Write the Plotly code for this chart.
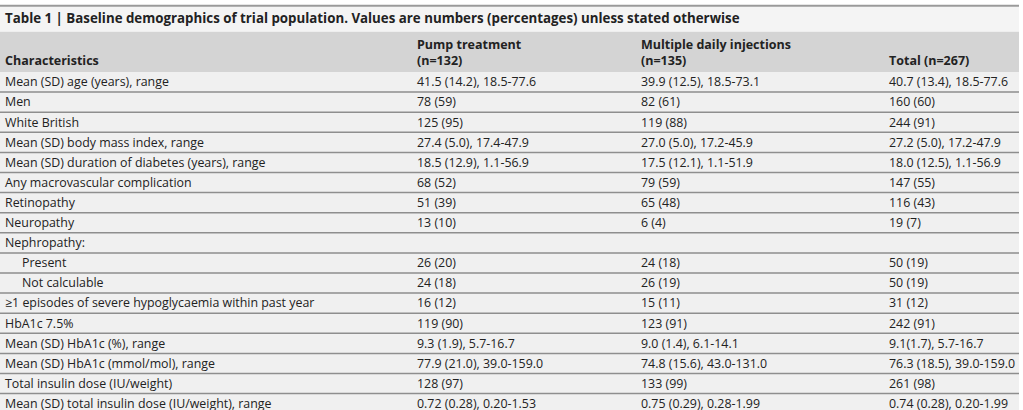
import plotly.graph_objects as go

title = ("Table 1 | Baseline demographics of trial population. "
         "Values are numbers (percentages) unless stated otherwise")

headers = ["Characteristics", "Pump treatment<br>(n=132)",
           "Multiple daily injections<br>(n=135)", "Total (n=267)"]

characteristics = [
    "Mean (SD) age (years), range",
    "Men",
    "White British",
    "Mean (SD) body mass index, range",
    "Mean (SD) duration of diabetes (years), range",
    "Any macrovascular complication",
    "Retinopathy",
    "Neuropathy",
    "Nephropathy:",
    "Present",
    "Not calculable",
    "≥1 episodes of severe hypoglycaemia within past year",
    "HbA1c 7.5%",
    "Mean (SD) HbA1c (%), range",
    "Mean (SD) HbA1c (mmol/mol), range",
    "Total insulin dose (IU/weight)",
    "Mean (SD) total insulin dose (IU/weight), range",
]
indented = [False] * 9 + [True, True] + [False] * 6

pump = ["41.5 (14.2), 18.5-77.6", "78 (59)", "125 (95)", "27.4 (5.0), 17.4-47.9",
        "18.5 (12.9), 1.1-56.9", "68 (52)", "51 (39)", "13 (10)", "",
        "26 (20)", "24 (18)", "16 (12)", "119 (90)", "9.3 (1.9), 5.7-16.7",
        "77.9 (21.0), 39.0-159.0", "128 (97)", "0.72 (0.28), 0.20-1.53"]
mdi = ["39.9 (12.5), 18.5-73.1", "82 (61)", "119 (88)", "27.0 (5.0), 17.2-45.9",
       "17.5 (12.1), 1.1-51.9", "79 (59)", "65 (48)", "6 (4)", "",
       "24 (18)", "26 (19)", "15 (11)", "123 (91)", "9.0 (1.4), 6.1-14.1",
       "74.8 (15.6), 43.0-131.0", "133 (99)", "0.75 (0.29), 0.28-1.99"]
total = ["40.7 (13.4), 18.5-77.6", "160 (60)", "244 (91)", "27.2 (5.0), 17.2-47.9",
         "18.0 (12.5), 1.1-56.9", "147 (55)", "116 (43)", "19 (7)", "",
         "50 (19)", "50 (19)", "31 (12)", "242 (91)", "9.1(1.7), 5.7-16.7",
         "76.3 (18.5), 39.0-159.0", "261 (98)", "0.74 (0.28), 0.20-1.99"]

# layout constants (pixels / row units)
W, H = 1023, 410
ROW_H = 20.1
BODY_TOP = 72
RIGHT = 1019
col_x = [5, 417, 641, 889]
font = "Open Sans"
txt_col = "#222222"

rows = list(range(len(characteristics)))
y_top = -BODY_TOP / ROW_H - 0.5
y_bot = (H - BODY_TOP) / ROW_H - 0.5

fig = go.Figure()

shapes = []
# title band + top rule
shapes.append(dict(type="rect", x0=0, x1=RIGHT, y0=y_top + 0.33, y1=-2.5,
                   fillcolor="#f4f4f4", line_width=0, layer="below"))
shapes.append(dict(type="line", x0=0, x1=RIGHT, y0=y_top + 0.28, y1=y_top + 0.28,
                   line=dict(color="#9a9a9a", width=2)))
# header band
shapes.append(dict(type="rect", x0=0, x1=RIGHT, y0=-2.5, y1=-0.5,
                   fillcolor="#d4d4d4", line_width=0, layer="below"))
# body rows
for r in rows:
    shapes.append(dict(type="rect", x0=0, x1=RIGHT, y0=r - 0.5, y1=r + 0.5,
                       fillcolor="#f0f0f0", line_width=0, layer="below"))
    if r > 0:
        shapes.append(dict(type="line", x0=0, x1=RIGHT, y0=r - 0.5, y1=r - 0.5,
                           line=dict(color="#8e8e8e", width=1.5)))

# title
fig.add_trace(go.Scatter(x=[col_x[0]], y=[y_top + 0.98], mode="text", text=[title],
                         textposition="middle right",
                         textfont=dict(family=font, size=13.3, color=txt_col, weight="bold"),
                         hoverinfo="skip"))

# header
hdr_lines = [h.split("<br>") for h in headers]
hx, hy, ht = [], [], []
for cx, parts in zip(col_x, hdr_lines):
    if len(parts) == 2:
        hx += [cx, cx]
        hy += [-1.8, -0.98]
        ht += parts
    else:
        hx.append(cx)
        hy.append(-0.98)
        ht.append(parts[0])
fig.add_trace(go.Scatter(x=hx, y=hy, mode="text", text=ht, textposition="middle right",
                         textfont=dict(family=font, size=12.5, color=txt_col, weight="bold"),
                         hoverinfo="skip"))

# body
first_x = [col_x[0] + 17 if ind else col_x[0] for ind in indented]
fig.add_trace(go.Scatter(x=first_x, y=[r + 0.06 for r in rows], mode="text",
                         text=characteristics, textposition="middle right",
                         textfont=dict(family=font, size=12.4, color=txt_col),
                         hoverinfo="skip"))
for cx, vals in zip(col_x[1:], [pump, mdi, total]):
    fig.add_trace(go.Scatter(x=[cx] * len(vals), y=[r + 0.06 for r in rows],
                             mode="text", text=vals, textposition="middle right",
                             textfont=dict(family=font, size=12.4, color=txt_col),
                             hoverinfo="skip"))

fig.update_layout(
    width=W, height=H, margin=dict(l=0, r=0, t=0, b=0),
    paper_bgcolor="white", plot_bgcolor="white", showlegend=False,
    xaxis=dict(range=[0, W], visible=False, fixedrange=True),
    yaxis=dict(range=[y_bot, y_top], visible=False, fixedrange=True),
    shapes=shapes,
)

fig.write_html("out.html", config={"displayModeBar": False},
               post_script="document.body.style.margin = '0';")
